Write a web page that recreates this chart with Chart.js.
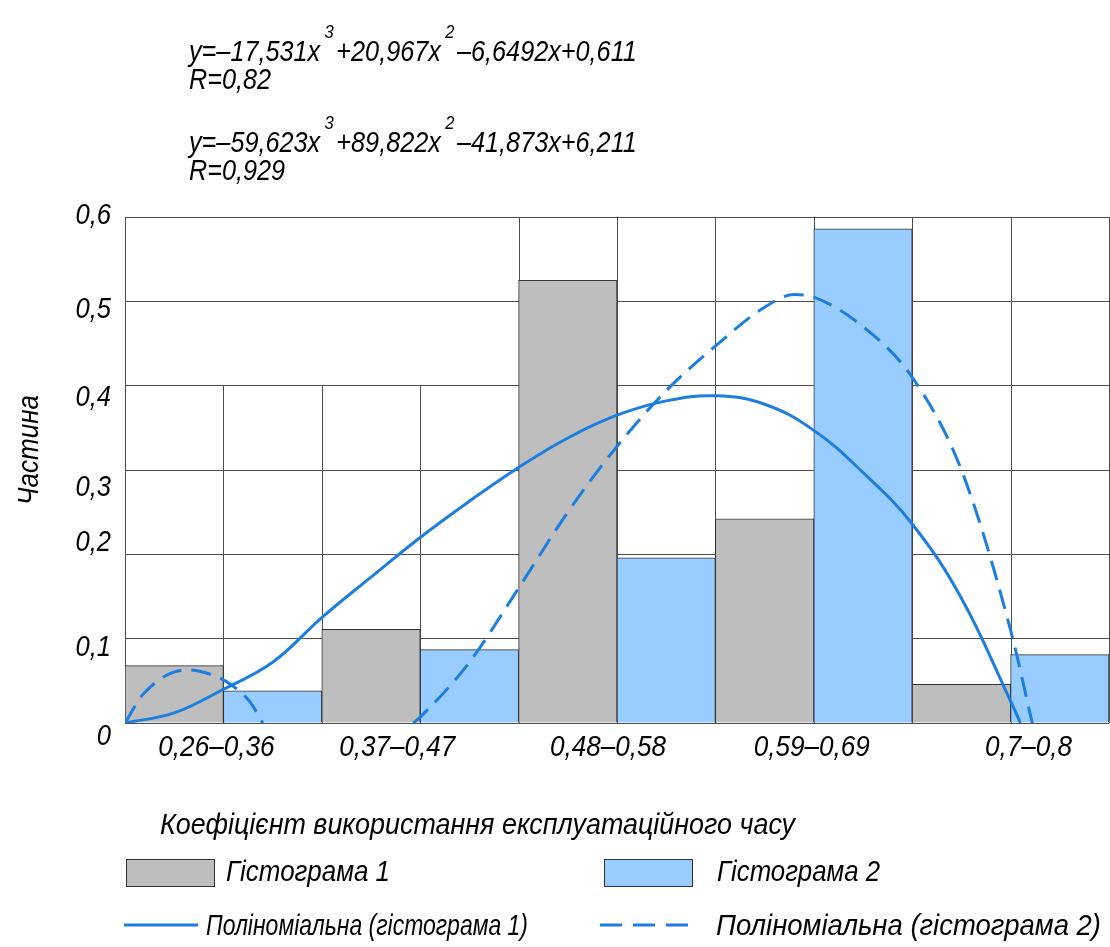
<!DOCTYPE html>
<html>
<head>
<meta charset="utf-8">
<script src="https://cdn.jsdelivr.net/npm/chart.js@4.4.1/dist/chart.umd.min.js"></script>
<style>
  body { margin: 0; background: #fff; }
  #wrap { position: relative; width: 1110px; height: 947px; }
  #chart { position: absolute; left: 0; top: 0; }
  .eq {
    position: absolute;
    left: 189px;
    font: italic 29px "Liberation Sans", sans-serif;
    line-height: 30px;
    white-space: nowrap;
    color: #000;
    transform: scaleX(0.87);
    transform-origin: 0 0;
  }
  .eq sup { font-size: 19px; position: relative; top: -12px; margin: 0 3px 0 5px; }
</style>
</head>
<body>
<div id="wrap">
  <canvas id="chart" width="1110" height="947"></canvas>
  <div class="eq" style="top:29px">y=–17,531x<sup>3</sup>+20,967x<sup>2</sup>–6,6492x+0,611</div>
  <div class="eq" style="top:64px">R=0,82</div>
  <div class="eq" style="top:120px">y=–59,623x<sup>3</sup>+89,822x<sup>2</sup>–41,873x+6,211</div>
  <div class="eq" style="top:155px">R=0,929</div>
</div>
<script>
Chart.defaults.devicePixelRatio = 1;
Chart.defaults.animation = false;

// categories and histogram shares
const categories = ["0,26–0,36", "0,37–0,47", "0,48–0,58", "0,59–0,69", "0,7–0,8"];
const hist1 = [0.068, 0.111, 0.525, 0.242, 0.046];
const hist2 = [0.038, 0.087, 0.196, 0.586, 0.081];

// trend curves, x in half-category units (0..10)
const poly1X = [0, 0.5, 1.0, 1.5, 2.0, 2.5, 3.0, 3.5, 4.0, 4.5, 5.0, 5.5, 6.0, 6.5, 7.0, 7.5, 8.0, 8.5, 9.0, 9.1];
const poly1Y = [0, 0.012, 0.04, 0.072, 0.125, 0.173, 0.22, 0.263, 0.303, 0.338, 0.365, 0.382, 0.388, 0.378, 0.347, 0.297, 0.236, 0.148, 0.026, 0];
const poly2X = [0, 0.19, 0.63, 0.93, 1.07, 1.27, 1.4, 2.0, 2.93, 3.0, 3.5, 4.0, 4.5, 5.0, 5.5, 6.0, 6.5, 6.8, 7.0, 7.5, 8.0, 8.5, 9.0, 9.22];
const poly2Y = [0, 0.035, 0.063, 0.055, 0.046, 0.025, 0, null, 0, 0.007, 0.072, 0.16, 0.25, 0.328, 0.394, 0.447, 0.493, 0.508, 0.505, 0.47, 0.41, 0.3, 0.11, 0];

const yTicks = [0, 0.1, 0.2, 0.3, 0.4, 0.5, 0.6];

const GRAY = "#bebebe";
const BLUE = "#99ccff";
const LINE = "#1c7ee0";
const GRID = "#4d4d4d";
const EDGE = "#333";
const FONT = 'italic 29px "Liberation Sans", sans-serif';

// how high each vertical rule goes (index = boundary between half-columns)
const vRuleTop = [0.6, 0.4, 0.4, 0.4, 0.6, 0.6, 0.6, 0.6, 0.6, 0.6, 0.6];
const yLabelShift = [14, 9, -11, 18, 12, 9, -1];
const xLabelShift = [-7, -23, -9, -2, 18];

function fmt(v) {
  return v === 0 ? "0" : v.toFixed(1).replace(".", ",");
}

// draw text squeezed horizontally, either by a factor or to a given width
function narrowText(ctx, text, x, y, sx, width) {
  const k = width ? width / ctx.measureText(text).width : sx;
  ctx.save();
  ctx.translate(x, y);
  ctx.scale(k, 1);
  ctx.fillText(text, 0, 0);
  ctx.restore();
}

const rulesPlugin = {
  id: "rules",
  beforeDatasetsDraw(chart) {
    const { ctx } = chart;
    const x = chart.scales.x;
    const y = chart.scales.y;
    ctx.save();
    ctx.strokeStyle = GRID;
    ctx.lineWidth = 1;
    vRuleTop.forEach((top, i) => {
      const px = Math.round(x.getPixelForValue(i)) + 0.5;
      ctx.beginPath();
      ctx.moveTo(px, y.getPixelForValue(top));
      ctx.lineTo(px, y.getPixelForValue(0));
      ctx.stroke();
    });
    ctx.restore();
  },
};

const textPlugin = {
  id: "texts",
  afterDraw(chart) {
    const { ctx } = chart;
    const x = chart.scales.x;
    const y = chart.scales.y;
    ctx.save();
    ctx.fillStyle = "#000";
    ctx.font = FONT;
    ctx.textBaseline = "middle";

    // y tick labels
    ctx.textAlign = "right";
    yTicks.forEach((v, i) => {
      narrowText(ctx, fmt(v), 111, y.getPixelForValue(v) + yLabelShift[i], 0.88);
    });

    // x tick labels, one per pair of bars
    ctx.textAlign = "center";
    categories.forEach((c, i) => {
      narrowText(ctx, c, x.getPixelForValue(2 * i + 1) + xLabelShift[i], 748, 0.9);
    });

    // axis titles
    ctx.textAlign = "left";
    narrowText(ctx, "Коефіцієнт використання експлуатаційного часу", 160, 826, 1, 635);
    ctx.save();
    ctx.translate(30, 450);
    ctx.rotate(-Math.PI / 2);
    ctx.textAlign = "center";
    narrowText(ctx, "Частина", 0, 0, 1, 110);
    ctx.restore();

    // legend
    const ds = chart.data.datasets;
    ctx.lineWidth = 1;
    ctx.strokeStyle = EDGE;
    ctx.fillStyle = ds[0].backgroundColor;
    ctx.fillRect(126.5, 859.5, 88, 27);
    ctx.strokeRect(126.5, 859.5, 88, 27);
    ctx.fillStyle = ds[1].backgroundColor;
    ctx.fillRect(604.5, 859.5, 88, 27);
    ctx.strokeRect(604.5, 859.5, 88, 27);

    ctx.strokeStyle = LINE;
    ctx.lineWidth = 3;
    ctx.beginPath();
    ctx.moveTo(124, 925);
    ctx.lineTo(198, 925);
    ctx.stroke();
    ctx.setLineDash([22, 11]);
    ctx.beginPath();
    ctx.moveTo(600, 925);
    ctx.lineTo(688, 925);
    ctx.stroke();
    ctx.setLineDash([]);

    ctx.fillStyle = "#000";
    narrowText(ctx, ds[0].label, 226, 873, 1, 164);
    narrowText(ctx, ds[1].label, 717, 873, 1, 163);
    narrowText(ctx, ds[2].label, 206, 927, 1, 322);
    narrowText(ctx, ds[3].label, 716, 927, 1, 385);
    ctx.restore();
  },
};

new Chart(document.getElementById("chart"), {
  data: {
    datasets: [
      {
        type: "bar",
        label: "Гістограма 1",
        data: hist1.map((v, i) => ({ x: 2 * i + 0.5, y: v })),
        backgroundColor: GRAY,
        borderColor: EDGE,
        borderWidth: 1,
        grouped: false,
        barPercentage: 1,
        categoryPercentage: 1,
        order: 2,
      },
      {
        type: "bar",
        label: "Гістограма 2",
        data: hist2.map((v, i) => ({ x: 2 * i + 1.5, y: v })),
        backgroundColor: BLUE,
        borderColor: EDGE,
        borderWidth: 1,
        grouped: false,
        barPercentage: 1,
        categoryPercentage: 1,
        order: 2,
      },
      {
        type: "line",
        label: "Поліноміальна (гістограма 1)",
        data: poly1X.map((v, i) => ({ x: v, y: poly1Y[i] })),
        borderColor: LINE,
        borderWidth: 3,
        pointRadius: 0,
        tension: 0.4,
        fill: false,
        order: 1,
      },
      {
        type: "line",
        label: "Поліноміальна (гістограма 2)",
        data: poly2X.map((v, i) => ({ x: v, y: poly2Y[i] })),
        borderColor: LINE,
        borderWidth: 3,
        borderDash: [20, 10],
        pointRadius: 0,
        cubicInterpolationMode: "monotone",
        spanGaps: false,
        fill: false,
        order: 0,
      },
    ],
  },
  options: {
    responsive: false,
    maintainAspectRatio: false,
    layout: { padding: { left: 0, right: 1, top: 217, bottom: 0 } },
    plugins: { legend: { display: false }, tooltip: { enabled: false } },
    scales: {
      x: {
        type: "linear",
        min: 0,
        max: 10,
        offset: false,
        grid: { display: false },
        border: { display: false },
        ticks: { display: false, stepSize: 2 },
        afterFit: (s) => { s.height = 224; },
      },
      y: {
        min: 0,
        max: 0.6,
        ticks: { stepSize: 0.1, display: false },
        grid: { color: GRID, lineWidth: 1, drawTicks: false },
        border: { display: false },
        afterFit: (s) => { s.width = 125; },
      },
    },
  },
  plugins: [rulesPlugin, textPlugin],
});
</script>
</body>
</html>
